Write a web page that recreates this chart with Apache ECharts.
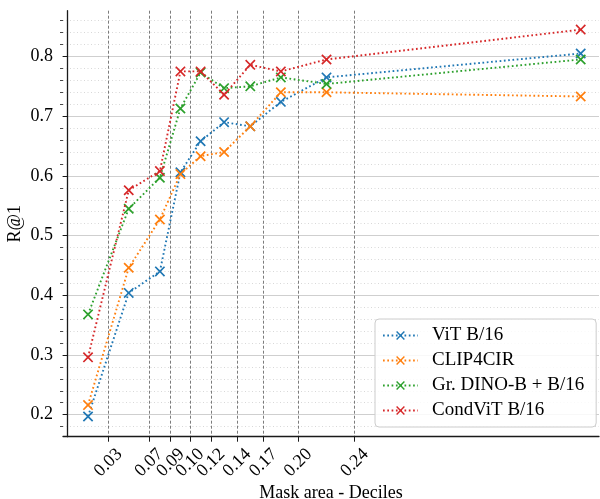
<!DOCTYPE html>
<html><head><meta charset="utf-8">
<script src="https://cdn.jsdelivr.net/npm/echarts@6/dist/echarts.min.js"></script>
<style>html,body{margin:0;padding:0;background:#fff}#c{width:600px;height:499px}</style>
</head><body><div id="c"></div>
<script>
// Decile boundaries of mask area (vertical dashed lines) and their tick labels
const decileEdges = [0.0345, 0.0690, 0.0874, 0.1038, 0.1216, 0.1436, 0.1660, 0.1954, 0.2433];
const decileLabels = ['0.03', '0.07', '0.09', '0.10', '0.12', '0.14', '0.17', '0.20', '0.24'];
// x position of each decile's point (bin centers)
const binCenters = [0.0173, 0.0518, 0.0782, 0.0956, 0.1127, 0.1326, 0.1548, 0.1807, 0.2194, 0.4348];
const seriesNames = ['ViT B/16', 'CLIP4CIR', 'Gr. DINO-B + B/16', 'CondViT B/16'];
const vitB16   = [0.197, 0.404, 0.440, 0.606, 0.658, 0.690, 0.683, 0.724, 0.765, 0.805];
const clip4cir = [0.216, 0.446, 0.527, 0.603, 0.633, 0.640, 0.683, 0.740, 0.740, 0.733];
const grDino   = [0.368, 0.545, 0.597, 0.713, 0.773, 0.747, 0.750, 0.765, 0.754, 0.795];
const condVit  = [0.296, 0.576, 0.608, 0.775, 0.775, 0.736, 0.786, 0.775, 0.795, 0.845];
const yMajorTicks = [0.2, 0.3, 0.4, 0.5, 0.6, 0.7, 0.8];
const yMinorTicks = [0.18, 0.22, 0.24, 0.26, 0.28, 0.32, 0.34, 0.36, 0.38, 0.42, 0.44, 0.46, 0.48,
  0.52, 0.54, 0.56, 0.58, 0.62, 0.64, 0.66, 0.68, 0.72, 0.74, 0.76, 0.78, 0.82, 0.84, 0.86];

const colors = ['#1f77b4', '#ff7f0e', '#2ca02c', '#d62728'];
const allValues = [vitB16, clip4cir, grDino, condVit];
const FONT = 'Liberation Serif';
const X_SYMBOL = 'path://M0,2.3 L2.3,0 L10,7.7 L17.7,0 L20,2.3 L12.3,10 L20,17.7 L17.7,20 L10,12.3 L2.3,20 L0,17.7 L7.7,10 Z';
const axisColor = '#1a1a1a';

const chart = echarts.init(document.getElementById('c'), null, {renderer: 'canvas'});
const yMin = 0.1631, yMax = 0.8767;

chart.setOption({
  animation: false,
  backgroundColor: '#fff',
  textStyle: {fontFamily: FONT},
  grid: {left: 63, top: 10.7, width: 536, height: 426, containLabel: false, outerBoundsMode: 'none'},
  legend: {
    orient: 'vertical', left: 375, top: 319,
    padding: [7, 12, 7, 7],
    itemWidth: 35, itemHeight: 11, itemGap: 6,
    backgroundColor: 'rgba(255,255,255,0.85)',
    borderColor: '#cccccc', borderWidth: 1, borderRadius: 4,
    textStyle: {fontFamily: FONT, fontSize: 19, color: '#000', padding: [0, 0, 0, 9]},
    data: seriesNames
  },
  xAxis: {
    type: 'value', min: -0.0039, max: 0.4503,
    name: 'Mask area - Deciles', nameLocation: 'middle', nameGap: 48, nameMoveOverlap: false,
    nameTextStyle: {fontFamily: FONT, fontSize: 18, color: '#000'},
    axisLine: {show: true, lineStyle: {color: axisColor, width: 1.3}},
    axisTick: {show: true, customValues: decileEdges, length: 5, lineStyle: {color: axisColor, width: 1}},
    axisLabel: {
      customValues: decileEdges, rotate: 45, align: 'center', verticalAlign: 'middle', margin: 26,
      fontFamily: FONT, fontSize: 18, color: '#000',
      formatter: v => { const i = decileEdges.findIndex(e => Math.abs(e - v) < 1e-6); return i >= 0 ? decileLabels[i] : ''; }
    },
    splitLine: {show: true, lineStyle: {color: '#5a5a5a', width: 0.8, type: [3, 2]}}
  },
  yAxis: [{
    type: 'value', min: yMin, max: yMax, position: 'left',
    name: 'R@1', nameLocation: 'middle', nameGap: 39, nameMoveOverlap: false,
    nameTextStyle: {fontFamily: FONT, fontSize: 18, color: '#000'},
    axisLine: {show: true, lineStyle: {color: axisColor, width: 1.3}},
    axisTick: {show: true, customValues: yMajorTicks, length: 5, lineStyle: {color: axisColor, width: 1}},
    axisLabel: {customValues: yMajorTicks, margin: 10, fontFamily: FONT, fontSize: 18, color: '#000',
      formatter: v => v.toFixed(1)},
    splitLine: {show: true, lineStyle: {color: '#cfcfcf', width: 1.1}}
  }, {
    type: 'value', min: yMin, max: yMax, position: 'left', offset: 0,
    axisLine: {show: false},
    axisTick: {show: true, customValues: yMinorTicks, length: 3, lineStyle: {color: axisColor, width: 0.8}},
    axisLabel: {show: false},
    splitLine: {show: true, lineStyle: {color: '#d4d4d4', width: 0.9, type: [1, 2.5]}}
  }],
  series: seriesNames.map((name, k) => ({
    name: name, type: 'line', xAxisIndex: 0, yAxisIndex: 0,
    data: binCenters.map((x, i) => [x, allValues[k][i]]),
    symbol: X_SYMBOL, symbolSize: 10.5,
    showSymbol: true,
    lineStyle: {color: colors[k], width: 1.9, type: [1.7, 2.6], cap: 'butt'},
    itemStyle: {color: colors[k]},
    emphasis: {disabled: true},
    z: 3 + k
  }))
});
</script></body></html>
